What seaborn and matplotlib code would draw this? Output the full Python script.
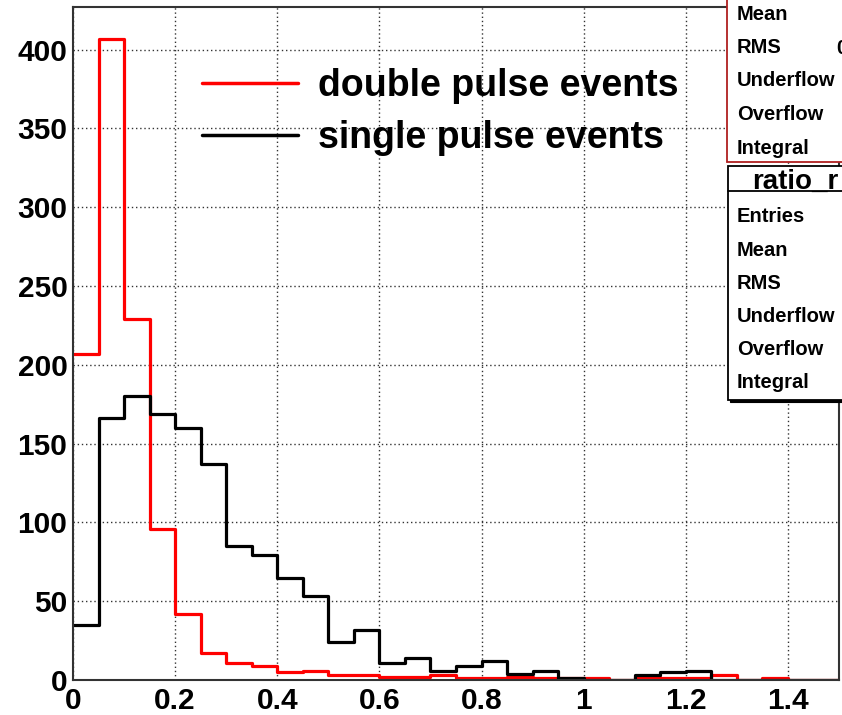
import pandas as pd
import matplotlib.pyplot as plt
import seaborn as sns
from matplotlib.lines import Line2D
from matplotlib.patches import Rectangle
from matplotlib.ticker import MultipleLocator, FuncFormatter

# histogram bins (ratio), 0.05 wide from 0 to 1.5
bin_edges = [round(0.05 * i, 2) for i in range(31)]
double_counts = [207, 407, 229, 96, 42, 17, 11, 9, 5, 6,
                 3, 3, 2, 2, 3, 1, 1, 2, 1, 1,
                 1, 0, 2, 1, 1, 3, 0, 1, 0, 0]
single_counts = [35, 166, 180, 169, 160, 137, 85, 79, 65, 53,
                 24, 32, 11, 14, 6, 9, 12, 4, 6, 1,
                 0, 0, 3, 5, 6, 0, 0, 0, 0, 0]
legend_labels = ["double pulse events", "single pulse events"]
stat_rows_1 = ["Mean", "RMS", "Underflow", "Overflow", "Integral"]
stat_rows_2 = ["Entries", "Mean", "RMS", "Underflow", "Overflow", "Integral"]
stat_title_2 = "ratio_r"

W, H = 842, 715


def fx(px):
    return px / W


def fy(py):
    return 1 - py / H


sns.set_style("white")
plt.rcParams['font.family'] = ['Liberation Sans', 'DejaVu Sans']
plt.rcParams['font.weight'] = 'bold'
plt.rcParams['text.color'] = 'black'

fig = plt.figure(figsize=(W / 100, H / 100), dpi=100)
ax = fig.add_axes([fx(73), fy(680), fx(839) - fx(73), fy(7) - fy(680)])

centers = [(a + b) / 2 for a, b in zip(bin_edges[:-1], bin_edges[1:])]
df = pd.DataFrame({"ratio": centers, "double": double_counts, "single": single_counts})
sns.histplot(data=df, x="ratio", weights="double", bins=bin_edges, element="step",
             fill=False, color="#ff0000", linewidth=2.3, ax=ax)
sns.histplot(data=df, x="ratio", weights="single", bins=bin_edges, element="step",
             fill=False, color="black", linewidth=2.3, ax=ax)

ax.set_xlim(0, 1.5)
ax.set_ylim(0, 427)
ax.set_xlabel("")
ax.set_ylabel("")

ax.xaxis.set_major_locator(MultipleLocator(0.2))
ax.xaxis.set_minor_locator(MultipleLocator(0.05))
ax.yaxis.set_major_locator(MultipleLocator(50))
ax.yaxis.set_minor_locator(MultipleLocator(10))
ax.xaxis.set_major_formatter(FuncFormatter(lambda v, _: f"{v:g}"))

ax.tick_params(axis='both', which='both', direction='in', color='#444',
               labelsize=21.5, labelcolor='black')
ax.tick_params(axis='y', which='major', length=18, width=1.3, pad=4)
ax.tick_params(axis='y', which='minor', length=8.6, width=1.3)
ax.tick_params(axis='x', which='major', length=14.4, width=1.3, pad=5)
ax.tick_params(axis='x', which='minor', length=6.7, width=1.3)
ax.grid(True, which='major', linestyle=(0, (1, 2)), color='#333', linewidth=1)
for s in ax.spines.values():
    s.set_linewidth(1.5)
    s.set_color('#333')

handles = [Line2D([], [], color='#ff0000', lw=2.5), Line2D([], [], color='black', lw=2.5)]
ax.legend(handles, legend_labels, loc='upper left', bbox_to_anchor=(fx(202), fy(68)),
          bbox_transform=fig.transFigure, frameon=False,
          prop=dict(weight='bold', size=27), handlelength=2.56,
          handletextpad=0.53, labelspacing=0.44, borderpad=0, borderaxespad=0)

# stat boxes, cut off by the right edge as in the original
fig.add_artist(Rectangle((fx(727), fy(162)), fx(200), fy(-10) - fy(162),
                         transform=fig.transFigure, facecolor='white',
                         edgecolor='#b02020', linewidth=1.3))
for i, row in enumerate(stat_rows_1):
    fig.text(fx(737), fy(14 + i * 33.5), row, fontsize=14.5, va='center', ha='left')
fig.text(fx(836), fy(48), "0.09", fontsize=14.5, va='center', ha='left')

fig.add_artist(Rectangle((fx(730), fy(402)), fx(200), fy(168) - fy(402),
                         transform=fig.transFigure, facecolor='black',
                         edgecolor='black', linewidth=0.8))
fig.add_artist(Rectangle((fx(728), fy(400)), fx(200), fy(166) - fy(400),
                         transform=fig.transFigure, facecolor='white',
                         edgecolor='black', linewidth=1.3))
fig.add_artist(Line2D([fx(728), 1.0], [fy(191), fy(191)], transform=fig.transFigure,
                      color='black', linewidth=1.3))
fig.text(fx(752), fy(182), stat_title_2, fontsize=20, va='center', ha='left')
for i, row in enumerate(stat_rows_2):
    fig.text(fx(737), fy(217 + i * 33.2), row, fontsize=14.5, va='center', ha='left')

fig.savefig("out.png", dpi=100)
